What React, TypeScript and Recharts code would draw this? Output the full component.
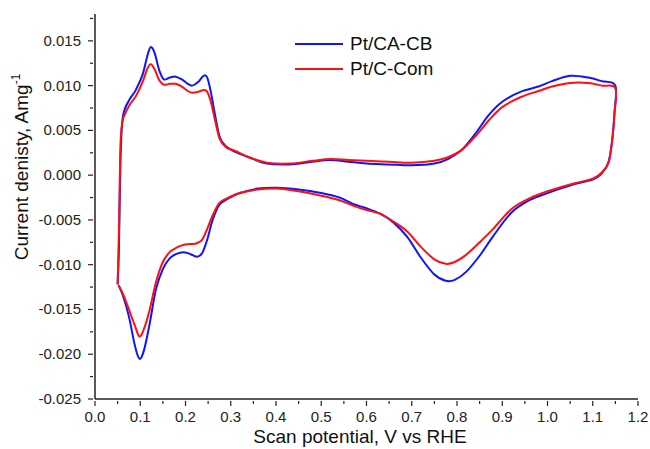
import { LineChart, Line, XAxis, YAxis, Legend } from "recharts";

const FONT = '"Liberation Sans", Arial, sans-serif';

// anodic (forward) scan, V vs RHE
const forwardPotential = [
  0.05, 0.053, 0.056, 0.06, 0.066, 0.077, 0.09, 0.105, 0.115, 0.123, 0.132, 0.142, 0.152, 0.165,
  0.178, 0.192, 0.205, 0.215, 0.228, 0.24, 0.248, 0.256, 0.265, 0.276, 0.29, 0.31, 0.34, 0.38,
  0.43, 0.48, 0.52, 0.56, 0.6, 0.65, 0.7, 0.75, 0.78, 0.81, 0.84, 0.87, 0.9, 0.94, 0.98, 1.01,
  1.05, 1.09, 1.12, 1.15,
];
const cacbForward = [
  -0.0122, -0.008, 0.001, 0.0058, 0.0074, 0.0085, 0.0095, 0.0112, 0.0132, 0.0143, 0.0136, 0.0117,
  0.0107, 0.0109, 0.011, 0.0107, 0.0102, 0.01, 0.0104, 0.0111, 0.0109, 0.0093, 0.0068, 0.0042,
  0.0032, 0.0026, 0.002, 0.0013, 0.0012, 0.0015, 0.0017, 0.0015, 0.0013, 0.0012, 0.0011, 0.0013,
  0.0018, 0.0028, 0.0046, 0.0067, 0.0082, 0.0093, 0.0099, 0.0105, 0.0111, 0.0109, 0.0105, 0.01,
];
const comForward = [
  -0.0122, -0.006, 0.003, 0.0058, 0.0068, 0.0079, 0.0088, 0.0104, 0.0118, 0.0124, 0.0118, 0.0106,
  0.0101, 0.0102, 0.0102, 0.0099, 0.0094, 0.0092, 0.0093, 0.0095, 0.0093, 0.0082, 0.0062, 0.004,
  0.0031, 0.0027, 0.002, 0.0014, 0.0013, 0.0016, 0.0018, 0.0017, 0.0016, 0.0015, 0.0014, 0.0016,
  0.002, 0.0028, 0.0043, 0.0061, 0.0076, 0.0087, 0.0094, 0.0099, 0.0103, 0.0103, 0.01, 0.0097,
];

// cathodic (reverse) scan
const reversePotential = [
  1.148, 1.143, 1.135, 1.12, 1.1, 1.06, 1.0, 0.96, 0.92, 0.88, 0.85, 0.82, 0.795, 0.775, 0.75,
  0.72, 0.69, 0.66, 0.63, 0.6, 0.57, 0.54, 0.5, 0.45, 0.4, 0.36, 0.32, 0.295, 0.275, 0.26, 0.248,
  0.237, 0.225, 0.21, 0.195, 0.18, 0.165, 0.15, 0.135, 0.12, 0.108, 0.098, 0.088, 0.075, 0.062,
  0.052,
];
const cacbReverse = [
  0.007, 0.004, 0.0015, 0.0002, -0.0005, -0.001, -0.002, -0.0028, -0.0042, -0.0068, -0.009,
  -0.0108, -0.0117, -0.0118, -0.0111, -0.0092, -0.0069, -0.0053, -0.0043, -0.0037, -0.0032,
  -0.0025, -0.002, -0.0016, -0.0014, -0.0015, -0.002, -0.0026, -0.0033, -0.005, -0.0072, -0.0087,
  -0.0091, -0.0088, -0.0086, -0.0088, -0.0093, -0.0105, -0.0127, -0.0168, -0.0196, -0.0205,
  -0.019, -0.0158, -0.0135, -0.0123,
];
const comReverse = [
  0.0068, 0.0038, 0.0014, 0.0003, -0.0004, -0.0009, -0.0018, -0.0026, -0.0038, -0.006, -0.0075,
  -0.0089, -0.0097, -0.0099, -0.0094, -0.008, -0.0063, -0.0052, -0.0043, -0.0039, -0.0034,
  -0.0028, -0.0023, -0.0018, -0.0015, -0.0016, -0.002, -0.0025, -0.0031, -0.0045, -0.006, -0.0072,
  -0.0076, -0.0077, -0.0078, -0.0081, -0.0086, -0.0097, -0.0119, -0.0152, -0.0172, -0.018,
  -0.0168, -0.015, -0.0133, -0.0123,
];

const xTicks = [
  0, 0.05, 0.1, 0.15, 0.2, 0.25, 0.3, 0.35, 0.4, 0.45, 0.5, 0.55, 0.6, 0.65, 0.7, 0.75, 0.8, 0.85,
  0.9, 0.95, 1.0, 1.05, 1.1, 1.15, 1.2,
];
const yTicks = [
  -0.025, -0.0225, -0.02, -0.0175, -0.015, -0.0125, -0.01, -0.0075, -0.005, -0.0025, 0, 0.0025,
  0.005, 0.0075, 0.01, 0.0125, 0.015, 0.0175,
];

const toLoop = (fwd: number[], rev: number[]) => [
  ...forwardPotential.map((v, i) => ({ v, j: fwd[i] })),
  ...reversePotential.map((v, i) => ({ v, j: rev[i] })),
];

const series = [
  { name: "Pt/CA-CB", color: "#0f14ff", data: toLoop(cacbForward, cacbReverse) },
  { name: "Pt/C-Com", color: "#ff1010", data: toLoop(comForward, comReverse) },
];

// parametric catmull-rom so the closed CV loop stays smooth where the scan reverses
const catmullRom = (context: any) => {
  let pts: number[][] = [];
  return {
    areaStart() {},
    areaEnd() {},
    lineStart() {
      pts = [];
    },
    point(x: number, y: number) {
      pts.push([+x, +y]);
    },
    lineEnd() {
      if (!pts.length) return;
      context.moveTo(pts[0][0], pts[0][1]);
      for (let i = 0; i < pts.length - 1; i++) {
        const p0 = pts[i - 1] || pts[i];
        const p1 = pts[i];
        const p2 = pts[i + 1];
        const p3 = pts[i + 2] || p2;
        context.bezierCurveTo(
          p1[0] + (p2[0] - p0[0]) / 6,
          p1[1] + (p2[1] - p0[1]) / 6,
          p2[0] - (p3[0] - p1[0]) / 6,
          p2[1] - (p3[1] - p1[1]) / 6,
          p2[0],
          p2[1]
        );
      }
    },
  };
};

const isMajor = (v: number, step: number) => Math.abs(v / step - Math.round(v / step)) < 1e-6;

const XTick = ({ x, y, payload }: any) => {
  const major = isMajor(payload.value, 0.1);
  return (
    <g>
      <line x1={x} x2={x} y1={y} y2={y + (major ? 5 : 3)} stroke="#222" strokeWidth={1.2} />
      {major && (
        <text x={x} y={y + 21} textAnchor="middle" fontSize={15} fill="#222" fontFamily={FONT}>
          {payload.value.toFixed(1)}
        </text>
      )}
    </g>
  );
};

const YTick = ({ x, y, payload }: any) => {
  const major = isMajor(payload.value, 0.005);
  return (
    <g>
      <line x1={x - (major ? 5 : 3)} x2={x} y1={y} y2={y} stroke="#222" strokeWidth={1.2} />
      {major && (
        <text x={x - 12} y={y + 5} textAnchor="end" fontSize={15} fill="#222" fontFamily={FONT}>
          {payload.value.toFixed(3)}
        </text>
      )}
    </g>
  );
};

const XTitle = () => (
  <text x={360} y={443} textAnchor="middle" fontSize={19} fill="#111" fontFamily={FONT}>
    Scan potential, V vs RHE
  </text>
);

const YTitle = () => (
  <text
    x={0}
    y={0}
    transform="translate(28,167) rotate(-90)"
    textAnchor="middle"
    fontSize={19}
    fill="#111"
    fontFamily={FONT}
  >
    Current denisty, Amg
    <tspan fontSize={12} dy={-8}>
      -1
    </tspan>
  </text>
);

const renderLegend = () => (
  <div style={{ fontFamily: FONT, fontSize: 19, color: "#111", lineHeight: "25px" }}>
    {series.map((s) => (
      <div key={s.name} style={{ display: "flex", alignItems: "center" }}>
        <svg width={48} height={4}>
          <line x1={0} x2={48} y1={2} y2={2} stroke={s.color} strokeWidth={2} />
        </svg>
        <span style={{ marginLeft: 7 }}>{s.name}</span>
      </div>
    ))}
  </div>
);

export default function App() {
  return (
    <div style={{ position: "absolute", left: 0, top: 0, width: 650, height: 449, background: "#fff" }}>
      <LineChart width={650} height={449} margin={{ top: 14, right: 12, bottom: 10, left: 15 }}>
        <XAxis
          dataKey="v"
          type="number"
          domain={[0, 1.2]}
          ticks={xTicks}
          interval={0}
          height={40}
          tickSize={0}
          tickLine={false}
          tick={<XTick />}
          axisLine={{ stroke: "#222", strokeWidth: 1.5 }}
          allowDataOverflow
          label={<XTitle />}
        />
        <YAxis
          type="number"
          domain={[-0.025, 0.018]}
          ticks={yTicks}
          interval={0}
          width={80}
          tickSize={0}
          tickLine={false}
          tick={<YTick />}
          axisLine={{ stroke: "#222", strokeWidth: 1.5 }}
          allowDataOverflow
          label={<YTitle />}
        />
        <XAxis
          xAxisId="top"
          orientation="top"
          type="number"
          domain={[0, 1.2]}
          height={0}
          tick={false}
          tickLine={false}
          axisLine={{ stroke: "#222", strokeWidth: 1.5 }}
        />
        <YAxis
          yAxisId="right"
          orientation="right"
          type="number"
          domain={[-0.025, 0.018]}
          width={0}
          tick={false}
          tickLine={false}
          axisLine={{ stroke: "#222", strokeWidth: 1.5 }}
        />
        <Legend
          layout="horizontal"
          verticalAlign="middle"
          align="center"
          content={renderLegend}
          wrapperStyle={{ left: 295, top: 31, width: "auto" }}
        />
        {series.map((s) => (
          <Line
            key={s.name}
            data={s.data}
            dataKey="j"
            name={s.name}
            type={catmullRom as any}
            stroke={s.color}
            strokeWidth={2}
            dot={false}
            activeDot={false}
            isAnimationActive={false}
          />
        ))}
      </LineChart>
    </div>
  );
}
